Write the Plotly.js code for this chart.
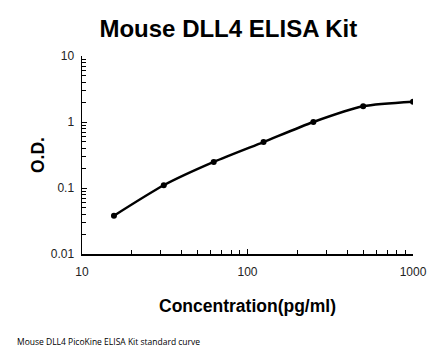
<!DOCTYPE html>
<html>
<head>
<meta charset="utf-8">
<script src="https://cdn.plot.ly/plotly-3.0.1.min.js"></script>
<style>html,body{margin:0;padding:0;background:#fff;}#chart{width:446px;height:356px;}</style>
</head>
<body>
<div id="chart"></div>
<script>
const concentration = [15.6, 31.2, 62.5, 125, 250, 500, 1000];
const od = [0.038, 0.110, 0.248, 0.497, 1.00, 1.73, 2.03];
const xTickVals = [10, 100, 1000];
const xTickText = ['10', '100', '1000'];
const yTickVals = [0.01, 0.1, 1, 10];
const yTickText = ['0.01', '0.1', '1', '10'];

const traces = [
  {
    x: concentration, y: od, type: 'scatter', mode: 'lines',
    line: {color: '#000', width: 2.5, shape: 'spline', smoothing: 0.7},
    hoverinfo: 'skip', showlegend: false
  },
  {
    x: concentration, y: od, type: 'scatter', mode: 'markers',
    marker: {color: '#000', size: 6},
    showlegend: false
  }
];

const layout = {
  width: 446, height: 356,
  margin: {l: 82, r: 33, t: 56, b: 102},
  paper_bgcolor: '#fff', plot_bgcolor: '#fff',
  font: {family: 'Liberation Sans, Arial, sans-serif', color: '#000'},
  title: {
    text: '<b>Mouse DLL4 ELISA Kit</b>',
    font: {size: 24, color: '#000', family: 'Liberation Sans, Arial, sans-serif'},
    x: 0.512, xanchor: 'center', xref: 'container',
    y: 0.921, yanchor: 'middle', yref: 'container'
  },
  xaxis: {
    type: 'log', range: [1, 3],
    tickvals: xTickVals, ticktext: xTickText,
    ticks: 'inside', ticklen: 5, tickcolor: '#000', tickwidth: 1,
    minor: {ticks: 'inside', ticklen: 4, tickcolor: '#000', tickwidth: 1, dtick: 'D1'},
    showline: true, linecolor: '#000', linewidth: 1.5,
    showgrid: false, zeroline: false,
    ticklabelstandoff: 6,
    tickfont: {size: 12, color: '#222'},
    title: {text: '<b>Concentration(pg/ml)</b>', font: {size: 17.5, color: '#000'}, standoff: 22}
  },
  yaxis: {
    type: 'log', range: [-2, 1],
    tickvals: yTickVals, ticktext: yTickText,
    ticks: 'inside', ticklen: 5, tickcolor: '#000', tickwidth: 1,
    minor: {ticks: 'inside', ticklen: 4, tickcolor: '#000', tickwidth: 1, dtick: 'D1'},
    showline: true, linecolor: '#000', linewidth: 1.5,
    showgrid: false, zeroline: false,
    ticklabelstandoff: 4,
    tickfont: {size: 12, color: '#222'},
    title: {text: '<b>O.D.</b>', font: {size: 17.5, color: '#000'}, standoff: 1}
  },
  annotations: [{
    text: 'Mouse DLL4 PicoKine ELISA Kit standard curve',
    xref: 'paper', yref: 'paper',
    x: (15 - 82) / 331, y: (254 - 341) / 198,
    xanchor: 'left', yanchor: 'middle', showarrow: false,
    font: {size: 8.5, color: '#000', family: 'Open Sans, Liberation Sans, sans-serif'}
  }]
};

Plotly.newPlot('chart', traces, layout, {displayModeBar: false, staticPlot: true});
</script>
</body>
</html>
